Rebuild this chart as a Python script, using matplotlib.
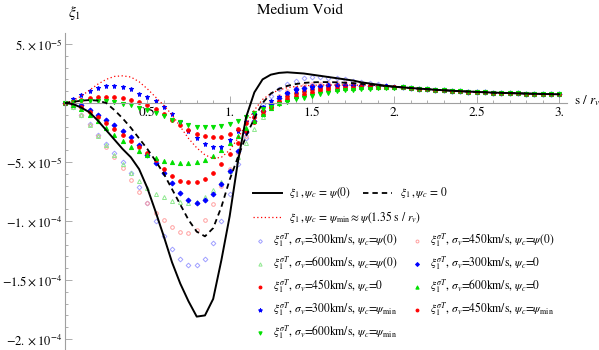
import numpy as np
import matplotlib
matplotlib.use("Agg")
import matplotlib.pyplot as plt
from matplotlib.ticker import MultipleLocator, FixedLocator

plt.rcParams['font.family'] = ['STIXGeneral', 'DejaVu Serif']
plt.rcParams['mathtext.fontset'] = 'stix'

# s / r_v grid, values in units of 1e-5
s_head = np.round(np.arange(0, 2.0001, 0.05), 2)
s_tail = np.round(np.arange(2.05, 3.0001, 0.05), 2)

tail = [1.32, 1.27, 1.22, 1.17, 1.12, 1.08, 1.04, 1.0, 0.97, 0.94,
        0.91, 0.88, 0.86, 0.84, 0.82, 0.8, 0.78, 0.77, 0.75, 0.74]

xi_psi0 = [0, -0.1, -0.4, -0.8, -1.5, -2.3, -3.1, -3.9, -4.6, -5.6, -7.2, -9.2, -11.3, -13.5,
           -15.3, -16.8, -18.1, -18.0, -16.6, -13.3, -9.6, -5.0, -1.2, 0.9, 2.0, 2.4, 2.55,
           2.6, 2.55, 2.5, 2.4, 2.3, 2.2, 2.1, 2.0, 1.9, 1.75, 1.65, 1.55, 1.45, 1.38]
xi_zero = [0, 0.1, 0.2, 0.25, 0.2, 0.0, -0.6, -1.3, -2.1, -3.0, -3.9, -4.9, -6.0, -7.3, -8.6,
           -9.9, -10.9, -11.3, -10.6, -8.8, -6.5, -4.6, -2.8, -1.3, 0.0, 0.8, 1.2, 1.45, 1.6,
           1.7, 1.75, 1.77, 1.77, 1.75, 1.72, 1.68, 1.62, 1.56, 1.5, 1.44, 1.38]
xi_min = [0, 0.2, 0.6, 1.1, 1.6, 2.0, 2.25, 2.3, 2.2, 1.8, 1.2, 0.5, -0.2, -1.0, -2.0, -3.0,
          -3.8, -4.4, -4.7, -4.6, -4.0, -3.0, -1.8, -0.6, 0.3, 0.8, 1.1, 1.3, 1.4, 1.45, 1.5,
          1.52, 1.53, 1.53, 1.53, 1.52, 1.5, 1.48, 1.45, 1.42, 1.38]

sig300_psi0 = [0, -0.3, -1.0, -1.8, -2.7, -3.5, -4.2, -5.0, -5.9, -7.1, -8.5, -10.0, -11.3, -12.4,
               -13.2, -13.7, -13.7, -13.2, -11.9, -10.0, -7.7, -5.2, -3.0, -1.2, -0.1, 0.6, 1.2,
               1.6, 1.9, 2.1, 2.2, 2.2, 2.15, 2.1, 2.0, 1.9, 1.8, 1.68, 1.57, 1.46, 1.38]
sig450_psi0 = [0, -0.3, -1.0, -1.9, -2.8, -3.7, -4.6, -5.5, -6.5, -7.5, -8.5, -9.3, -9.9, -10.5,
               -10.9, -11.0, -10.8, -9.9, -8.6, -7.0, -5.6, -4.2, -2.8, -1.6, -0.6, 0.1, 0.6,
               1.0, 1.3, 1.5, 1.6, 1.65, 1.68, 1.68, 1.66, 1.63, 1.58, 1.53, 1.48, 1.42, 1.38]
sig600_psi0 = [0, -0.3, -1.0, -1.9, -2.8, -3.6, -4.4, -5.2, -5.9, -6.6, -7.2, -7.7, -8.0, -8.3,
               -8.4, -8.5, -8.4, -8.0, -7.4, -6.7, -5.8, -4.6, -3.4, -2.2, -1.2, -0.4, 0.2, 0.6,
               0.9, 1.1, 1.25, 1.35, 1.4, 1.45, 1.47, 1.48, 1.47, 1.46, 1.44, 1.41, 1.38]
sig300_zero = [0, -0.05, -0.2, -0.6, -1.0, -1.4, -1.9, -2.4, -2.9, -3.6, -4.4, -5.1, -5.9, -6.8,
               -7.6, -8.2, -8.5, -8.2, -7.7, -6.9, -5.8, -4.1, -2.5, -1.5, -0.7, -0.1, 0.4, 0.85,
               1.15, 1.3, 1.42, 1.48, 1.5, 1.5, 1.5, 1.49, 1.48, 1.47, 1.45, 1.41, 1.38]
sig450_zero = [0, -0.1, -0.35, -0.8, -1.2, -1.7, -2.2, -2.7, -3.2, -3.7, -4.2, -4.8, -5.6, -6.2,
               -6.6, -6.7, -6.7, -6.4, -5.9, -5.2, -4.3, -3.4, -2.4, -1.6, -0.9, -0.3, 0.2, 0.55,
               0.85, 1.05, 1.2, 1.3, 1.36, 1.4, 1.42, 1.43, 1.43, 1.42, 1.41, 1.39, 1.37]
sig600_zero = [0, -0.15, -0.5, -1.0, -1.5, -2.1, -2.7, -3.2, -3.7, -4.1, -4.4, -4.7, -4.9, -5.0,
               -5.05, -5.05, -5.0, -4.8, -4.5, -4.0, -3.4, -2.8, -2.1, -1.5, -0.9, -0.4, 0.0,
               0.35, 0.6, 0.8, 0.95, 1.07, 1.15, 1.22, 1.27, 1.3, 1.32, 1.33, 1.34, 1.34, 1.33]
sig300_min = [0, 0.3, 0.7, 1.05, 1.3, 1.4, 1.42, 1.35, 1.15, 0.8, 0.5, 0.15, -0.3, -0.9, -1.6,
              -2.4, -3.0, -3.5, -3.7, -3.7, -3.1, -2.4, -1.6, -0.9, -0.3, 0.15, 0.5, 0.85, 1.05,
              1.2, 1.3, 1.38, 1.42, 1.44, 1.45, 1.45, 1.45, 1.44, 1.42, 1.4, 1.37]
sig450_min = [0, 0.1, 0.25, 0.4, 0.48, 0.5, 0.48, 0.4, 0.25, 0.05, -0.2, -0.5, -0.9, -1.4, -1.9,
              -2.3, -2.6, -2.8, -2.9, -2.85, -2.6, -2.2, -1.7, -1.2, -0.7, -0.3, 0.05, 0.35, 0.6,
              0.8, 0.95, 1.07, 1.15, 1.22, 1.27, 1.3, 1.32, 1.33, 1.33, 1.33, 1.32]
sig600_min = [0, 0.05, 0.15, 0.2, 0.2, 0.15, 0.05, -0.05, -0.2, -0.4, -0.6, -0.85, -1.1, -1.4,
              -1.65, -1.85, -2.0, -2.05, -2.05, -1.95, -1.75, -1.5, -1.15, -0.85, -0.55, -0.3,
              -0.1, 0.1, 0.3, 0.45, 0.6, 0.75, 0.88, 0.98, 1.06, 1.12, 1.17, 1.2, 1.23, 1.24, 1.25]

yticks = [5e-5, -5e-5, -1e-4, -1.5e-4, -2e-4]
ytick_labels = [r'$5.\times 10^{-5}$', r'$-5.\times 10^{-5}$', r'$-1.\times 10^{-4}$',
                r'$-1.5\times 10^{-4}$', r'$-2.\times 10^{-4}$']
xticks = [0.5, 1.0, 1.5, 2.0, 2.5, 3.0]
xtick_labels = ['0.5', '1.', '1.5', '2.', '2.5', '3.']

lt_blue, lt_red, lt_green = '#a0a0ff', '#ffa0a0', '#90e890'
blue, red, green = '#0000ff', '#ff0000', '#00e000'

# (values, marker, colour, filled, size, label)
marker_series = [
    (sig300_psi0, 'D', lt_blue, False, 2.4, r'$\sigma_v$=300km/s, $\psi_c$=$\psi$(0)'),
    (sig450_psi0, 'o', lt_red, False, 2.6, r'$\sigma_v$=450km/s, $\psi_c$=$\psi$(0)'),
    (sig600_psi0, '^', lt_green, False, 2.9, r'$\sigma_v$=600km/s, $\psi_c$=$\psi$(0)'),
    (sig300_zero, 'D', blue, True, 2.5, r'$\sigma_v$=300km/s, $\psi_c$=0'),
    (sig450_zero, 'o', red, True, 2.6, r'$\sigma_v$=450km/s, $\psi_c$=0'),
    (sig600_zero, '^', green, True, 3.0, r'$\sigma_v$=600km/s, $\psi_c$=0'),
    (sig300_min, '*', blue, True, 3.6, r'$\sigma_v$=300km/s, $\psi_c$=$\psi_{\rm min}$'),
    (sig450_min, 'o', red, True, 2.6, r'$\sigma_v$=450km/s, $\psi_c$=$\psi_{\rm min}$'),
    (sig600_min, 'v', green, True, 3.0, r'$\sigma_v$=600km/s, $\psi_c$=$\psi_{\rm min}$'),
]

fig = plt.figure(figsize=(5.99, 3.5), dpi=100)
W, H = 599.0, 350.0
ax = fig.add_axes([65 / W, 0.0, 502.2 / W, 317 / H])
ax.set_xlim(0, 3.05)
ax.set_ylim(-20.93e-5, 5.93e-5)

s_all = np.concatenate([s_head, s_tail])
for vals, mk, col, filled, ms, _ in marker_series:
    y = np.array(vals + tail) * 1e-5
    ax.plot(s_all, y, ls='none', marker=mk, ms=ms, mec=col,
            mfc=col if filled else 'none', mew=0.7, clip_on=False, zorder=2)

ax.plot(s_all, np.array(xi_psi0 + tail) * 1e-5, color='black', lw=1.4, zorder=4)
ax.plot(s_all, np.array(xi_zero + tail) * 1e-5, color='black', lw=1.3, ls=(0, (3, 2.2)), zorder=4)
ax.plot(s_all, np.array(xi_min + tail) * 1e-5, color=red, lw=0.9, ls=(0, (1, 2)), zorder=3)

for side in ['top', 'right']:
    ax.spines[side].set_visible(False)
ax.spines['left'].set_position(('data', 0))
ax.spines['bottom'].set_position(('data', 0))
for side in ['left', 'bottom']:
    ax.spines[side].set_color('#a0a0a0')
    ax.spines[side].set_linewidth(0.8)

ax.set_xticks(xticks)
ax.set_xticklabels(xtick_labels)
ax.xaxis.set_minor_locator(MultipleLocator(0.1))
ax.set_yticks(yticks)
ax.set_yticklabels(ytick_labels)
ax.yaxis.set_minor_locator(FixedLocator(np.arange(-20, 6) * 1e-5))
ax.tick_params(which='both', direction='in', color='#a0a0a0', labelsize=9.5, width=0.6)
ax.tick_params(axis='y', labelsize=9)
ax.tick_params(which='major', length=5)
ax.tick_params(which='minor', length=2.5)
ax.tick_params(axis='y', pad=2)
ax.tick_params(axis='x', pad=3)

fig.text(300 / W, 1 - 10 / H, 'Medium Void', ha='center', va='center', fontsize=11)
fig.text(68 / W, 1 - 13 / H, r'$\xi_1$', ha='left', va='center', fontsize=11)
fig.text(574 / W, 1 - 101 / H, r'$\mathrm{s}\ /\ r_v$', ha='left', va='center', fontsize=9.5)

# legend drawn by hand in pixel coordinates
lax = fig.add_axes([0, 0, 1, 1])
lax.set_xlim(0, W)
lax.set_ylim(H, 0)
lax.axis('off')
lax.patch.set_alpha(0)

fs = 8.3
lax.plot([253, 282], [193, 193], color='black', lw=1.4)
lax.text(289, 193, r'$\xi_1\,,\psi_c\,=\,\psi(0)$', va='center', fontsize=fs)
lax.plot([363, 392], [193, 193], color='black', lw=1.3, ls=(0, (3, 2.2)))
lax.text(400, 193, r'$\xi_1\,,\psi_c\,=\,0$', va='center', fontsize=fs)
lax.plot([253, 282], [217, 217], color=red, lw=0.9, ls=(0, (1, 2)))
lax.text(289, 217, r'$\xi_1\,,\psi_c\,=\,\psi_{\rm min}\approx\psi(1.35\ \mathrm{s}\ /\ r_v)$',
         va='center', fontsize=fs)

rows = [241, 264, 287, 310, 333]
for i, (vals, mk, col, filled, ms, lab) in enumerate(marker_series):
    r, c = divmod(i, 2)
    xm = 260 if c == 0 else 417
    lax.plot([xm], [rows[r]], ls='none', marker=mk, ms=ms * 0.8, mec=col,
             mfc=col if filled else 'none', mew=0.7)
    lax.text(xm + 13, rows[r], r'$\xi_1^{\sigma T}$, ' + lab, va='center', fontsize=fs)

fig.savefig('out.png', dpi=100)
